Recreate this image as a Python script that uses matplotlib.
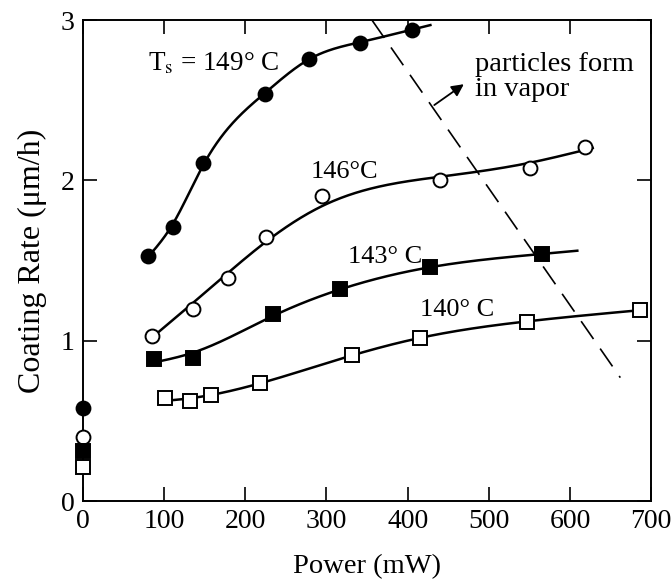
import numpy as np
import matplotlib
matplotlib.use("Agg")
import matplotlib.pyplot as plt

plt.rcParams['font.family'] = ['Liberation Serif', 'DejaVu Serif']
plt.rcParams['mathtext.fontset'] = 'stix'

# data: power (mW) vs coating rate (um/h)
p149 = [80, 111, 148, 224, 279, 341, 405]
r149 = [1.53, 1.71, 2.11, 2.54, 2.76, 2.86, 2.94]
p146 = [85, 135, 179, 225, 295, 440, 551, 619]
r146 = [1.03, 1.20, 1.39, 1.65, 1.90, 2.00, 2.08, 2.21]
p143 = [87, 135, 234, 317, 428, 566]
r143 = [0.885, 0.89, 1.17, 1.32, 1.46, 1.54]
p140 = [101, 132, 158, 218, 331, 415, 547, 686]
r140 = [0.64, 0.625, 0.66, 0.735, 0.91, 1.02, 1.12, 1.19]

# rates at zero power
r0 = [0.58, 0.40, 0.31, 0.21]

# boundary where particles form in vapor
bound_p = [356, 662]
bound_r = [3.0, 0.77]


def smooth_fit(xs, ys, xend, lam):
    # penalised least-squares smoothing curve (like a smoothing spline)
    grid = np.linspace(xs[0], xend, 300)
    dx = grid[1] - grid[0]
    n = len(grid)
    A = np.zeros((len(xs), n))
    for k, xv in enumerate(xs):
        j = min(int((xv - grid[0]) / dx), n - 2)
        w = (xv - grid[j]) / dx
        A[k, j], A[k, j + 1] = 1 - w, w
    D = np.zeros((n - 2, n))
    for j in range(n - 2):
        D[j, j:j + 3] = [1, -2, 1]
    D /= dx ** 2
    M = A.T @ A + lam * dx * D.T @ D
    g = np.linalg.solve(M, A.T @ np.array(ys, float))
    return grid, g


fig = plt.figure(figsize=(6.72, 5.82), dpi=100)
ax = fig.add_axes([0.1235, 0.139, 0.8455, 0.8265])

series = [
    (p149, r149, 'o', 'black', 428, 1500),
    (p146, r146, 'o', 'white', 628, 200000),
    (p143, r143, 's', 'black', 609, 40000),
    (p140, r140, 's', 'white', 686, 40000),
]
for (px, ry, m, fc, xend, lam), z in zip(series, r0):
    gx, gy = smooth_fit(px, ry, xend, lam)
    ax.plot(gx, gy, color='black', lw=1.8, zorder=2)
    ms = 10 if m == 'o' else 9.5
    ax.plot(px, ry, m, mfc=fc, mec='black', mew=1.4, ms=ms, zorder=3)
    ax.plot([0], [z], m, mfc=fc, mec='black', mew=1.4, ms=ms, zorder=4, clip_on=False)

ax.plot(bound_p, bound_r, color='black', lw=1.2, dashes=(13, 7), zorder=1)
ax.annotate('', xy=(472, 2.61), xytext=(430, 2.46),
            arrowprops=dict(arrowstyle='-|>', color='black', lw=1.3, mutation_scale=18))
ax.text(483, 2.645, 'particles form\nin vapor', fontsize=20.5, va='center', ha='left', linespacing=1.0)

ax.text(80, 2.73, r'T$_{\rm s}$ = 149° C', fontsize=19.5, va='center', ha='left')
ax.text(280, 2.05, '146°C', fontsize=19, va='center', ha='left')
ax.text(327, 1.52, '143° C', fontsize=19, va='center', ha='left')
ax.text(415, 1.19, '140° C', fontsize=19, va='center', ha='left')

ax.set_xlim(0, 700)
ax.set_ylim(0, 3)
ax.set_xticks(range(0, 701, 100))
ax.set_yticks([0, 1, 2, 3])
ax.tick_params(direction='in', length=10, width=1.2, labelsize=20, top=True, right=True, pad=6)
for s in ax.spines.values():
    s.set_linewidth(1.4)

ax.set_xlabel('Power (mW)', fontsize=20.5, labelpad=14)
ax.set_ylabel('Coating Rate (μm/h)', fontsize=23, labelpad=10)

fig.savefig('out.png', dpi=100)
